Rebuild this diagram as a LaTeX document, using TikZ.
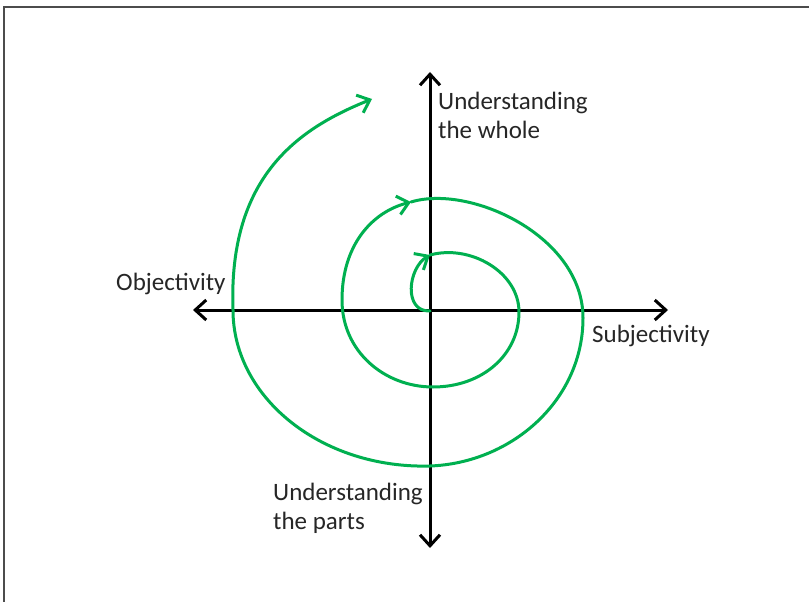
\documentclass[tikz,border=0pt]{standalone}
\usepackage{fontspec}
\setmainfont{Carlito}
\usetikzlibrary{arrows.meta}
\definecolor{spiralgreen}{RGB}{0,176,80}
\begin{document}
\begin{tikzpicture}[x=1pt,y=-1pt,
  axis/.style={line width=3pt,black,-{Straight Barb[length=11pt,width=20pt,line width=3pt]}},
  spiral/.style={line width=3pt,spiralgreen,line cap=round,-{Straight Barb[length=11pt,width=19pt,line width=3pt]}},
  lbl/.style={inner sep=0pt,font=\fontsize{25}{29}\selectfont,text=black!85,align=left}]
\useasboundingbox (0,0) rectangle (809,602);
\fill[white] (0,0) rectangle (809,602);
\draw[gray!60!black,line width=1.5pt] (4,602) -- (4,7) -- (809,7);
% axes
\coordinate (O) at (430,310);
\coordinate (L) at (193,310);
\coordinate (R) at (668,310);
\coordinate (T) at (430,72);
\coordinate (B) at (430,548);
\draw[axis] (O) -- (L);
\draw[axis] (O) -- (R);
\draw[axis] (O) -- (T);
\draw[axis] (O) -- (B);
% labels
\node[lbl,anchor=base west] (whole) at (438,139) {Understanding\\the whole};
\node[lbl,anchor=base west] (obj) at (116,290) {Objectivity};
\node[lbl,anchor=base west] (subj) at (592,342) {Subjectivity};
\node[lbl,anchor=base west] (parts) at (273,529) {Understanding\\the parts};
% spiral
\coordinate (s0) at (430,311);
\coordinate (s1) at (430,255);
\coordinate (s2) at (411,202);
\coordinate (s3) at (372,99);
\draw[spiral] (s0) .. controls (403,312) and (408,268) .. (s1);
\draw[spiral] (s1) .. controls (470,244) and (519,272) .. (519,312)
  .. controls (519,355) and (482,387) .. (433,387)
  .. controls (385,387) and (342,352) .. (342,300)
  .. controls (342,245) and (372,212) .. (s2);
\draw[spiral] (s2) .. controls (470,184) and (583,236) .. (583,318)
  .. controls (583,400) and (512,463) .. (430,466)
  .. controls (322,469) and (233,398) .. (233,310)
  .. controls (228,175) and (300,128) .. (s3);
\end{tikzpicture}
\end{document}
